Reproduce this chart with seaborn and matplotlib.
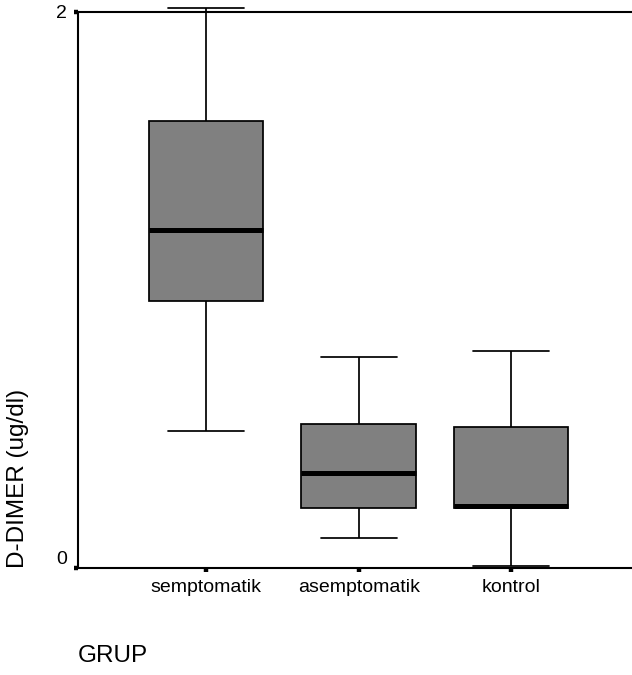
import numpy as np
import pandas as pd
import matplotlib
matplotlib.use("Agg")
import matplotlib.pyplot as plt
import seaborn as sns

# Five-number summaries per group (D-DIMER, ug/dl)
groups = ["semptomatik", "asemptomatik", "kontrol"]
whisker_low = [0.493, 0.109, 0.008]
q1 = [0.960, 0.215, 0.215]
median = [1.216, 0.341, 0.222]
q3 = [1.608, 0.519, 0.506]
whisker_high = [2.014, 0.760, 0.779]

y_ticks = [0, 2]
y_ticklabels = ["0", "2"]

# Five points per group reproduce the summary exactly with linear quantiles
rows = []
for i, g in enumerate(groups):
    for v in (whisker_low[i], q1[i], median[i], q3[i], whisker_high[i]):
        rows.append({"GRUP": g, "D-DIMER": v})
df = pd.DataFrame(rows)

sns.set_style("white")
plt.rcParams["font.family"] = ["Liberation Sans", "DejaVu Sans"]

W, H = 632, 675
fig = plt.figure(figsize=(W / 100, H / 100), dpi=100)
ax = fig.add_axes([78 / W, 1 - 568 / H, 1 - 78 / W + 0.002, (568 - 12) / H])

sns.boxplot(
    data=df, x="GRUP", y="D-DIMER", order=groups,
    color="#808080", saturation=1, width=0.75, whis=(0, 100),
    linecolor="black", linewidth=1.25, fliersize=0,
    medianprops=dict(linewidth=3.6, color="black", solid_capstyle="butt"),
    capwidths=0.5, ax=ax,
)

for art in list(ax.lines) + list(ax.patches):
    art.set_clip_on(False)

ax.set_xlim(-0.84, 2.80)
ax.set_ylim(0, 2)
ax.set_yticks(y_ticks)
ax.set_yticklabels(y_ticklabels)
ax.set_xlabel("")
ax.set_ylabel("")

for side in ("left", "top", "bottom"):
    ax.spines[side].set_visible(True)
    ax.spines[side].set_color("black")
    ax.spines[side].set_linewidth(1.5)
ax.spines["right"].set_visible(False)

ax.tick_params(axis="both", which="major", direction="out", length=3,
               width=3.2, color="black", labelsize=14, labelcolor="black")
ax.tick_params(axis="y", pad=5, left=True)
ax.tick_params(axis="x", pad=5, bottom=True)

# The zero label sits just above its tick
ax.get_yticklabels()[0].set_verticalalignment("bottom")

fig.text(18 / W, 1 - 568 / H, "D-DIMER (ug/dl)", rotation=90,
         ha="center", va="bottom", fontsize=17.5, color="black")
fig.text(78 / W, 1 - 662 / H, "GRUP", ha="left", va="baseline",
         fontsize=17.5, color="black")

fig.savefig("out.png", dpi=100)
